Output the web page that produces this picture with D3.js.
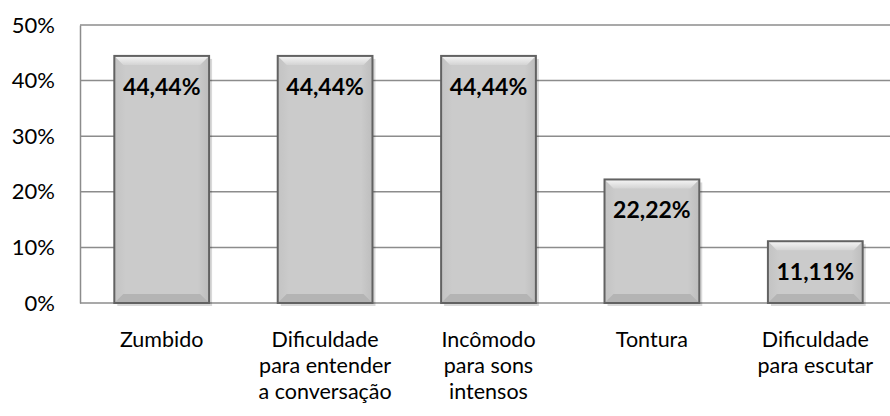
<!DOCTYPE html>
<html>
<head>
<meta charset="utf-8">
<script src="https://cdnjs.cloudflare.com/ajax/libs/d3/7.8.5/d3.min.js"></script>
<style>
  body { margin: 0; background: #fff; }
  svg { display: block; }
</style>
</head>
<body>
<div id="chart"></div>
<script>
// values
var categories = ['Zumbido', 'Dificuldade para entender a conversação', 'Incômodo para sons intensos', 'Tontura', 'Dificuldade para escutar'];
var labelLines = [['Zumbido'], ['Dificuldade', 'para entender', 'a conversação'], ['Incômodo', 'para sons', 'intensos'], ['Tontura'], ['Dificuldade', 'para escutar']];
var values = [44.44, 44.44, 44.44, 22.22, 11.11];
var valueLabels = ['44,44%', '44,44%', '44,44%', '22,22%', '11,11%'];
var yTicks = [0, 10, 20, 30, 40, 50];

var width = 890, height = 416;
var margin = { top: 25, right: -7, bottom: 113, left: 80 };
var plotW = width - margin.left - margin.right,
    plotH = height - margin.top - margin.bottom;
var font = 'Lato, "Open Sans", sans-serif';

var svg = d3.select('#chart').append('svg')
    .attr('width', width)
    .attr('height', height)

var defs = svg.append('defs');
var grad = defs.append('linearGradient').attr('id', 'barfill')
    .attr('x1', 0).attr('x2', 1).attr('y1', 0).attr('y2', 0);
grad.append('stop').attr('offset', '0%').attr('stop-color', '#c3c3c3');
grad.append('stop').attr('offset', '12%').attr('stop-color', '#cbcbcb');
grad.append('stop').attr('offset', '88%').attr('stop-color', '#cbcbcb');
grad.append('stop').attr('offset', '100%').attr('stop-color', '#bdbdbd');
var topg = defs.append('linearGradient').attr('id', 'bevtop')
    .attr('x1', 0).attr('x2', 0).attr('y1', 0).attr('y2', 1);
topg.append('stop').attr('offset', '0%').attr('stop-color', '#f6f6f6');
topg.append('stop').attr('offset', '100%').attr('stop-color', '#d4d4d4');

var g = svg.append('g').attr('transform', 'translate(' + margin.left + ',' + margin.top + ')');

var x = d3.scaleBand().domain(categories).range([0, plotW]).paddingInner(0.42).paddingOuter(0.21);
var y = d3.scaleLinear().domain([0, 50]).range([plotH, 0]);

// gridlines
g.append('g').selectAll('line').data(yTicks).join('line')
    .attr('x1', 0).attr('x2', plotW)
    .attr('y1', function (d) { return y(d); })
    .attr('y2', function (d) { return y(d); })
    .attr('stroke', '#8c8c8c')
    .attr('stroke-width', 1.5);

// y axis
var yAxis = d3.axisLeft(y).tickValues(yTicks).tickSize(0).tickPadding(25)
    .tickFormat(function (d) { return d + '%'; });
var ya = g.append('g').call(yAxis);
ya.select('.domain').attr('stroke', '#8c8c8c').attr('stroke-width', 1.5);
ya.selectAll('text').attr('font-family', font).attr('font-size', 22).attr('fill', '#000');

// bars
var bev = 9;
var bars = g.append('g').selectAll('g').data(values).join('g')
    .attr('transform', function (d, i) { return 'translate(' + x(categories[i]) + ',' + y(d) + ')'; });

bars.append('rect')
    .attr('x', 3).attr('y', 3)
    .attr('width', x.bandwidth())
    .attr('height', function (d) { return plotH - y(d); })
    .attr('fill', '#000').attr('opacity', 0.15);

bars.append('rect')
    .attr('width', x.bandwidth())
    .attr('height', function (d) { return plotH - y(d); })
    .attr('fill', 'url(#barfill)');

// bevel top
bars.append('path')
    .attr('d', function (d) {
        var w = x.bandwidth();
        return 'M0,0L' + w + ',0L' + (w - bev) + ',' + bev + 'L' + bev + ',' + bev + 'Z';
    })
    .attr('fill', 'url(#bevtop)');
// bevel bottom
bars.append('path')
    .attr('d', function (d) {
        var w = x.bandwidth(), h = plotH - y(d);
        return 'M0,' + h + 'L' + w + ',' + h + 'L' + (w - bev) + ',' + (h - bev) + 'L' + bev + ',' + (h - bev) + 'Z';
    })
    .attr('fill', '#b4b4b4');

bars.append('rect')
    .attr('width', x.bandwidth())
    .attr('height', function (d) { return plotH - y(d); })
    .attr('fill', 'none')
    .attr('stroke', '#626262')
    .attr('stroke-width', 2);

// value labels
bars.append('text')
    .attr('x', x.bandwidth() / 2)
    .attr('y', 39)
    .attr('text-anchor', 'middle')
    .attr('font-family', font)
    .attr('font-weight', 'bold')
    .attr('font-size', 23)
    .attr('fill', '#000')
    .text(function (d, i) { return valueLabels[i]; });

// category labels
var cats = g.append('g').selectAll('text').data(categories).join('text')
    .attr('x', function (d) { return x(d) + x.bandwidth() / 2; })
    .attr('y', plotH + 44)
    .attr('text-anchor', 'middle')
    .attr('font-family', font)
    .attr('font-size', 21.5)
    .attr('fill', '#000');
cats.selectAll('tspan').data(function (d, i) { return labelLines[i]; }).join('tspan')
    .attr('x', function () { return d3.select(this.parentNode).attr('x'); })
    .attr('dy', function (d, j) { return j === 0 ? 0 : 26.2; })
    .text(function (d) { return d; });
</script>
</body>
</html>
